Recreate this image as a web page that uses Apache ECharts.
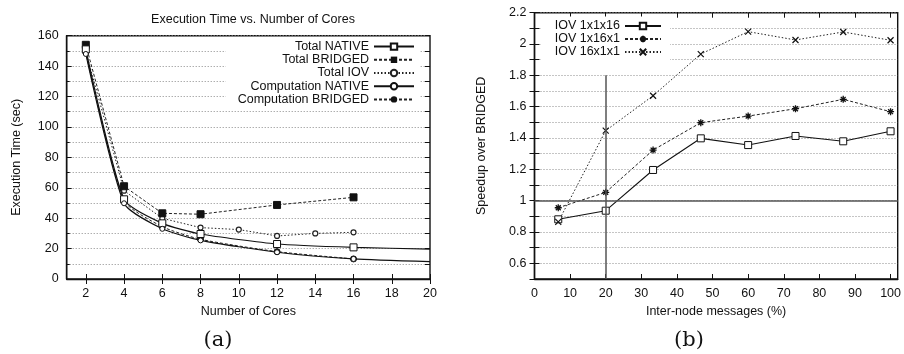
<!DOCTYPE html>
<html>
<head>
<meta charset="utf-8">
<script src="https://cdn.jsdelivr.net/npm/echarts@6/dist/echarts.min.js"></script>
<style>
  html, body { margin: 0; padding: 0; background: #fff; }
  #chart { width: 904px; height: 354px; }
</style>
</head>
<body>
<div id="chart"></div>
<script>
// (a) execution time vs cores
const coreTicks = [2, 4, 6, 8, 10, 12, 14, 16, 18, 20];
const totalNative = [[2, 151], [4, 52.4], [6, 36.6], [8, 29.6], [12, 23], [16, 20.8]];
const totalNativeEnd = [20, 19.7];
const totalBridged = [[2, 154], [4, 61], [6, 43.2], [8, 42.6], [12, 48.7], [16, 53.7]];
const totalIov = [[2, 149.5], [4, 58.1], [6, 39.9], [8, 33.8], [10, 32.5], [12, 28.3], [14, 30], [16, 30.7]];
const compNative = [[2, 148], [4, 49.8], [6, 33], [8, 25.4], [12, 17.6], [16, 13.2]];
const compNativeEnd = [20, 11.4];
const compBridged = [[2, 149], [4, 51.5], [6, 34.4], [8, 26.1], [12, 18], [16, 13.2]];

// (b) speedup over bridged
const msgTicks = [0, 10, 20, 30, 40, 50, 60, 70, 80, 90, 100];
const speedTicks = [0.6, 0.8, 1, 1.2, 1.4, 1.6, 1.8, 2, 2.2];
const msgShare = [6.67, 20, 33.3, 46.7, 60, 73.3, 86.7, 100];
const iov1x1x16 = [0.881, 0.936, 1.196, 1.398, 1.355, 1.413, 1.379, 1.443];
const iov1x16x1 = [0.955, 1.053, 1.323, 1.498, 1.54, 1.587, 1.647, 1.568];
const iov16x1x1 = [0.865, 1.447, 1.67, 1.936, 2.079, 2.026, 2.077, 2.024];
const baseline = 1;
const markerX = 20;
const markerTop = 1.8;

const font = "'Liberation Sans', Arial, sans-serif";
const ink = "#111";
const gridDots = { color: "#8a8a8a", width: 1, type: [1, 2] };
const labelStyle = { color: ink, fontFamily: font, fontSize: 12.5 };

const starPath = "path://M5,0L5,10M0,5L10,5M1.5,1.5L8.5,8.5M8.5,1.5L1.5,8.5";
const crossPath = "path://M0,0L10,10M10,0L0,10";

function withEnd(points, end) {
  return points.concat([{ value: end, symbol: "none" }]);
}

function lineSeries(name, data, opts) {
  return Object.assign({
    name,
    type: "line",
    data,
    symbolSize: 5,
    lineStyle: { color: "#1a1a1a", width: 1.1 },
    itemStyle: { color: "#1a1a1a", borderColor: "#1a1a1a", borderWidth: 1 },
    emphasis: { disabled: true },
    z: 3,
  }, opts);
}

const chart = echarts.init(document.getElementById("chart"), null, { renderer: "canvas" });

chart.setOption({
  animation: false,
  backgroundColor: "#fff",
  title: {
    text: "Execution Time vs. Number of Cores",
    left: 248,
    textAlign: "center",
    top: 8,
    textStyle: { color: ink, fontFamily: font, fontSize: 12.5, fontWeight: "normal" },
  },
  grid: [
    { left: 66.7, top: 35.7, width: 363.3, height: 243.3, show: true, borderColor: "#111", borderWidth: 1.4, backgroundColor: "transparent" },
    { left: 534.5, top: 12.7, width: 363.5, height: 266.3, show: true, borderColor: "#111", borderWidth: 1.4, backgroundColor: "transparent" },
  ],
  legend: [
    {
      data: ["Total NATIVE", "Total BRIDGED", "Total IOV", "Computation NATIVE", "Computation BRIDGED"],
      orient: "vertical",
      align: "right",
      right: 904 - 415 - 5,
      top: 37,
      padding: [3, 5, 3, 12],
      itemGap: 0,
      itemWidth: 40,
      itemHeight: 8,
      backgroundColor: "#fff",
      selectedMode: false,
      textStyle: { color: ink, fontFamily: font, fontSize: 12.5, lineHeight: 13.2 },
    },
    {
      data: ["IOV 1x1x16", "IOV 1x16x1", "IOV 16x1x1"],
      orient: "vertical",
      align: "right",
      right: 904 - 662 - 8,
      top: 16.5,
      padding: [3, 8, 4, 14],
      itemGap: 0,
      itemWidth: 36,
      itemHeight: 8,
      backgroundColor: "#fff",
      selectedMode: false,
      textStyle: { color: ink, fontFamily: font, fontSize: 12.5, lineHeight: 12.5 },
    },
  ],
  xAxis: [
    {
      gridIndex: 0, type: "value", min: 1, max: 20, interval: 1,
      name: "Number of Cores", nameLocation: "middle", nameGap: 26,
      nameTextStyle: labelStyle,
      axisLine: { lineStyle: { color: "#111", width: 1.4 } },
      axisTick: { inside: true, length: 5, customValues: coreTicks, lineStyle: { color: "#111" } },
      axisLabel: Object.assign({ margin: 8, customValues: coreTicks }, labelStyle),
      splitLine: { show: false },
    },
    {
      gridIndex: 0, type: "value", min: 1, max: 20, interval: 1, position: "top",
      axisLine: { show: false },
      axisTick: { inside: true, length: 5, customValues: coreTicks, lineStyle: { color: "#111" } },
      axisLabel: { show: false },
      splitLine: { show: false },
    },
    {
      gridIndex: 1, type: "value", min: 0, max: 102, interval: 10,
      name: "Inter-node messages (%)", nameLocation: "middle", nameGap: 26,
      nameTextStyle: labelStyle,
      axisLine: { lineStyle: { color: "#111", width: 1.4 } },
      axisTick: { inside: true, length: 5, customValues: msgTicks, lineStyle: { color: "#111" } },
      axisLabel: Object.assign({ margin: 8, customValues: msgTicks }, labelStyle),
      splitLine: { show: false },
    },
    {
      gridIndex: 1, type: "value", min: 0, max: 102, interval: 10, position: "top",
      axisLine: { show: false },
      axisTick: { inside: true, length: 5, customValues: msgTicks, lineStyle: { color: "#111" } },
      axisLabel: { show: false },
      splitLine: { show: false },
    },
  ],
  yAxis: [
    {
      gridIndex: 0, type: "value", min: 0, max: 160, interval: 20,
      name: "Execution Time (sec)", nameLocation: "middle", nameGap: 44,
      nameTextStyle: labelStyle,
      axisLine: { show: true, lineStyle: { color: "#111", width: 1.4 } },
      axisTick: { show: true, inside: true, length: 5, lineStyle: { color: "#111" } },
      minorTick: { show: true, splitNumber: 2, length: 3, lineStyle: { color: "#111" } },
      axisLabel: Object.assign({ margin: 8 }, labelStyle),
      splitLine: { show: true, lineStyle: gridDots },
      minorSplitLine: { show: true, lineStyle: gridDots },
    },
    {
      gridIndex: 0, type: "value", min: 0, max: 160, interval: 10, position: "right",
      axisLine: { show: false },
      axisTick: { show: true, inside: true, length: 5, lineStyle: { color: "#111" } },
      axisLabel: { show: false },
      splitLine: { show: false },
    },
    {
      gridIndex: 1, type: "value", min: 0.5, max: 2.2, interval: 0.1,
      name: "Speedup over BRIDGED", nameLocation: "middle", nameGap: 46,
      nameTextStyle: labelStyle,
      axisLine: { show: true, lineStyle: { color: "#111", width: 1.4 } },
      axisTick: { show: true, inside: true, length: 5, lineStyle: { color: "#111" } },
      axisLabel: Object.assign({ margin: 8, customValues: speedTicks, formatter: (v) => String(+v.toFixed(1)) }, labelStyle),
      splitLine: { show: true, lineStyle: gridDots },
    },
    {
      gridIndex: 1, type: "value", min: 0.5, max: 2.2, interval: 0.1, position: "right",
      axisLine: { show: false },
      axisTick: { show: true, inside: true, length: 5, lineStyle: { color: "#111" } },
      axisLabel: { show: false },
      splitLine: { show: false },
    },
  ],
  series: [
    lineSeries("Total IOV", totalIov, {
      symbol: "circle", symbolSize: 5,
      lineStyle: { color: "#222", width: 1, type: [1.5, 2] },
      itemStyle: { color: "#fff", borderColor: "#222", borderWidth: 1.2 },
    }),
    lineSeries("Total BRIDGED", totalBridged, {
      symbol: "rect", symbolSize: 7,
      lineStyle: { color: "#222", width: 1, type: [3, 2] },
      itemStyle: { color: "#111", borderColor: "#111" },
    }),
    lineSeries("Computation BRIDGED", compBridged, {
      symbol: "circle", symbolSize: 6, smooth: 0.2,
      lineStyle: { color: "#222", width: 1, type: [3, 2] },
      itemStyle: { color: "#111", borderColor: "#111" },
    }),
    lineSeries("Total NATIVE", withEnd(totalNative, totalNativeEnd), {
      symbol: "rect", symbolSize: 7, smooth: 0.2,
      lineStyle: { color: "#111", width: 1.2 },
      itemStyle: { color: "#fff", borderColor: "#111", borderWidth: 1 },
    }),
    lineSeries("Computation NATIVE", withEnd(compNative, compNativeEnd), {
      symbol: "circle", symbolSize: 5, smooth: 0.2,
      lineStyle: { color: "#111", width: 1.2 },
      itemStyle: { color: "#fff", borderColor: "#111", borderWidth: 1 },
    }),
    lineSeries("IOV 1x1x16", msgShare.map((x, i) => [x, iov1x1x16[i]]), {
      xAxisIndex: 2, yAxisIndex: 2,
      symbol: "rect", symbolSize: 7,
      lineStyle: { color: "#111", width: 1.1 },
      itemStyle: { color: "#fff", borderColor: "#111", borderWidth: 1 },
      markLine: {
        silent: true, symbol: "none", label: { show: false },
        lineStyle: { color: "#555", width: 1.5, type: "solid" },
        data: [
          { yAxis: baseline },
          [{ coord: [markerX, 0.5] }, { coord: [markerX, markerTop] }],
        ],
      },
    }),
    lineSeries("IOV 1x16x1", msgShare.map((x, i) => [x, iov1x16x1[i]]), {
      xAxisIndex: 2, yAxisIndex: 2,
      symbol: starPath, symbolSize: 7,
      lineStyle: { color: "#222", width: 1, type: [3, 2] },
      itemStyle: { color: "#111", borderColor: "#111", borderWidth: 1.3 },
    }),
    lineSeries("IOV 16x1x1", msgShare.map((x, i) => [x, iov16x1x1[i]]), {
      xAxisIndex: 2, yAxisIndex: 2,
      symbol: crossPath, symbolSize: 6,
      lineStyle: { color: "#222", width: 1, type: [1.5, 2] },
      itemStyle: { color: "#111", borderColor: "#111", borderWidth: 1.2 },
    }),
  ],
  graphic: [
    { type: "text", x: 218, y: 341, style: { text: "(a)", font: "21px 'DejaVu Serif', 'Liberation Serif', serif", fill: "#111", align: "center", verticalAlign: "middle" } },
    { type: "text", x: 689, y: 341, style: { text: "(b)", font: "21px 'DejaVu Serif', 'Liberation Serif', serif", fill: "#111", align: "center", verticalAlign: "middle" } },
  ],
});
</script>
</body>
</html>
